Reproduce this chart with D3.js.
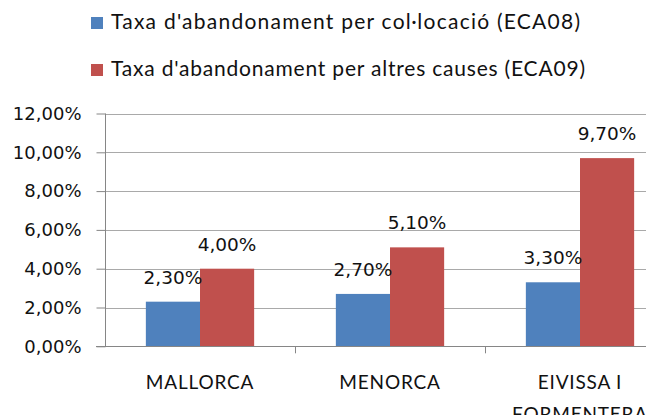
<!DOCTYPE html>
<html>
<head>
<meta charset="utf-8">
<script src="https://cdn.jsdelivr.net/npm/d3@7"></script>
<style>
  html, body { margin: 0; padding: 0; background: #fff; }
  svg { display: block; }
</style>
</head>
<body>
<svg id="chart"></svg>
<script>
// chart data
const categories = ["MALLORCA", "MENORCA", "EIVISSA I FORMENTERA"];
const categoryLines = [["MALLORCA"], ["MENORCA"], ["EIVISSA I", "FORMENTERA"]];
const seriesNames = [
  "Taxa d'abandonament per col·locació (ECA08)",
  "Taxa d'abandonament per altres causes (ECA09)"
];
const eca08 = [2.3, 2.7, 3.3];
const eca09 = [4.0, 5.1, 9.7];
const yTicks = [0, 2, 4, 6, 8, 10, 12];

const width = 646, height = 415;
const colors = ["#4F81BD", "#C0504D"];
const series = [eca08, eca09];

const svg = d3.select("#chart").attr("width", width).attr("height", height);

// decimal comma, like the original spreadsheet
const pct = v => d3.format(".2f")(v).replace(".", ",") + "%";

// the plot area runs past the right edge of the picture (cropped)
const x0 = d3.scaleBand()
  .domain(categories)
  .range([105, 675])
  .paddingInner(0.43)
  .paddingOuter(0.215);

const x1 = d3.scaleBand()
  .domain([0, 1])
  .range([0, x0.bandwidth()]);

const y = d3.scaleLinear()
  .domain([0, 12])
  .range([346.3, 113.5]);

// gridlines
svg.append("g")
  .selectAll("line")
  .data(yTicks.slice(1))
  .join("line")
    .attr("x1", 105).attr("x2", width)
    .attr("y1", d => Math.round(y(d)) + 0.5)
    .attr("y2", d => Math.round(y(d)) + 0.5)
    .attr("stroke", "#a9a9a9")
    .attr("stroke-width", 1);

// bars
const groups = svg.append("g")
  .selectAll("g")
  .data(categories)
  .join("g")
    .attr("transform", d => `translate(${x0(d)},0)`);

groups.selectAll("rect")
  .data((d, i) => series.map((s, k) => ({ k, v: s[i] })))
  .join("rect")
    .attr("x", d => x1(d.k))
    .attr("width", x1.bandwidth())
    .attr("y", d => y(d.v))
    .attr("height", d => y(0) - y(d.v))
    .attr("fill", d => colors[d.k]);

// data labels above each bar
groups.selectAll("text")
  .data((d, i) => series.map((s, k) => ({ k, v: s[i] })))
  .join("text")
    .attr("x", d => x1(d.k) + x1.bandwidth() / 2)
    .attr("y", d => y(d.v) - 18)
    .attr("text-anchor", "middle")
    .attr("font-family", "DejaVu Sans")
    .attr("font-size", 18.5)
    .attr("fill", "#111")
    .text(d => pct(d.v));

// y axis
const yAxis = svg.append("g")
  .attr("transform", "translate(105.5,0)")
  .call(d3.axisLeft(y).tickValues(yTicks).tickSize(9).tickPadding(15).tickFormat(pct));
yAxis.select(".domain").attr("stroke", "#868686").attr("d", `M0,${y(12)}V${y(0)}`);
yAxis.selectAll(".tick line").attr("stroke", "#868686");
yAxis.selectAll(".tick text")
  .attr("font-family", "DejaVu Sans")
  .attr("font-size", 18)
  .attr("fill", "#111");

// x axis line and category boundary ticks
const xAxis = svg.append("g");
xAxis.append("line")
  .attr("x1", 96).attr("x2", width)
  .attr("y1", Math.round(y(0)) + 0.5).attr("y2", Math.round(y(0)) + 0.5)
  .attr("stroke", "#868686");
xAxis.selectAll(".bound")
  .data(categories.slice(1))
  .join("line")
    .attr("class", "bound")
    .attr("x1", d => Math.round(x0(d) - x0.step() * x0.paddingInner() / 2) + 0.5)
    .attr("x2", d => Math.round(x0(d) - x0.step() * x0.paddingInner() / 2) + 0.5)
    .attr("y1", y(0)).attr("y2", y(0) + 7)
    .attr("stroke", "#868686");

// category labels (wrapped, the second line is cut by the bottom edge as in the original)
xAxis.selectAll(".cat")
  .data(categories)
  .join("text")
    .attr("class", "cat")
    .attr("x", d => x0(d) + x0.bandwidth() / 2)
    .attr("y", 388.5)
    .attr("text-anchor", "middle")
    .attr("font-family", "Lato")
    .attr("font-size", 19)
    .attr("letter-spacing", 0.8)
    .attr("fill", "#111")
    .each(function(d, i) {
      const t = d3.select(this);
      categoryLines[i].forEach((line, j) => {
        t.append("tspan")
          .attr("x", x0(d) + x0.bandwidth() / 2)
          .attr("dy", j === 0 ? 0 : 32)
          .text(line);
      });
    });

// legend at the top
const legend = svg.append("g");
const legendWidths = [469, 474];
seriesNames.forEach((name, k) => {
  legend.append("rect")
    .attr("x", 91).attr("y", 17 + k * 47)
    .attr("width", 12).attr("height", 12)
    .attr("fill", colors[k]);
  legend.append("text")
    .attr("x", 111).attr("y", 29 + k * 47)
    .attr("font-family", "Lato")
    .attr("font-size", 21)
    .attr("fill", "#111")
    .attr("textLength", legendWidths[k])
    .attr("lengthAdjust", "spacing")
    .text(name);
});
</script>
</body>
</html>
